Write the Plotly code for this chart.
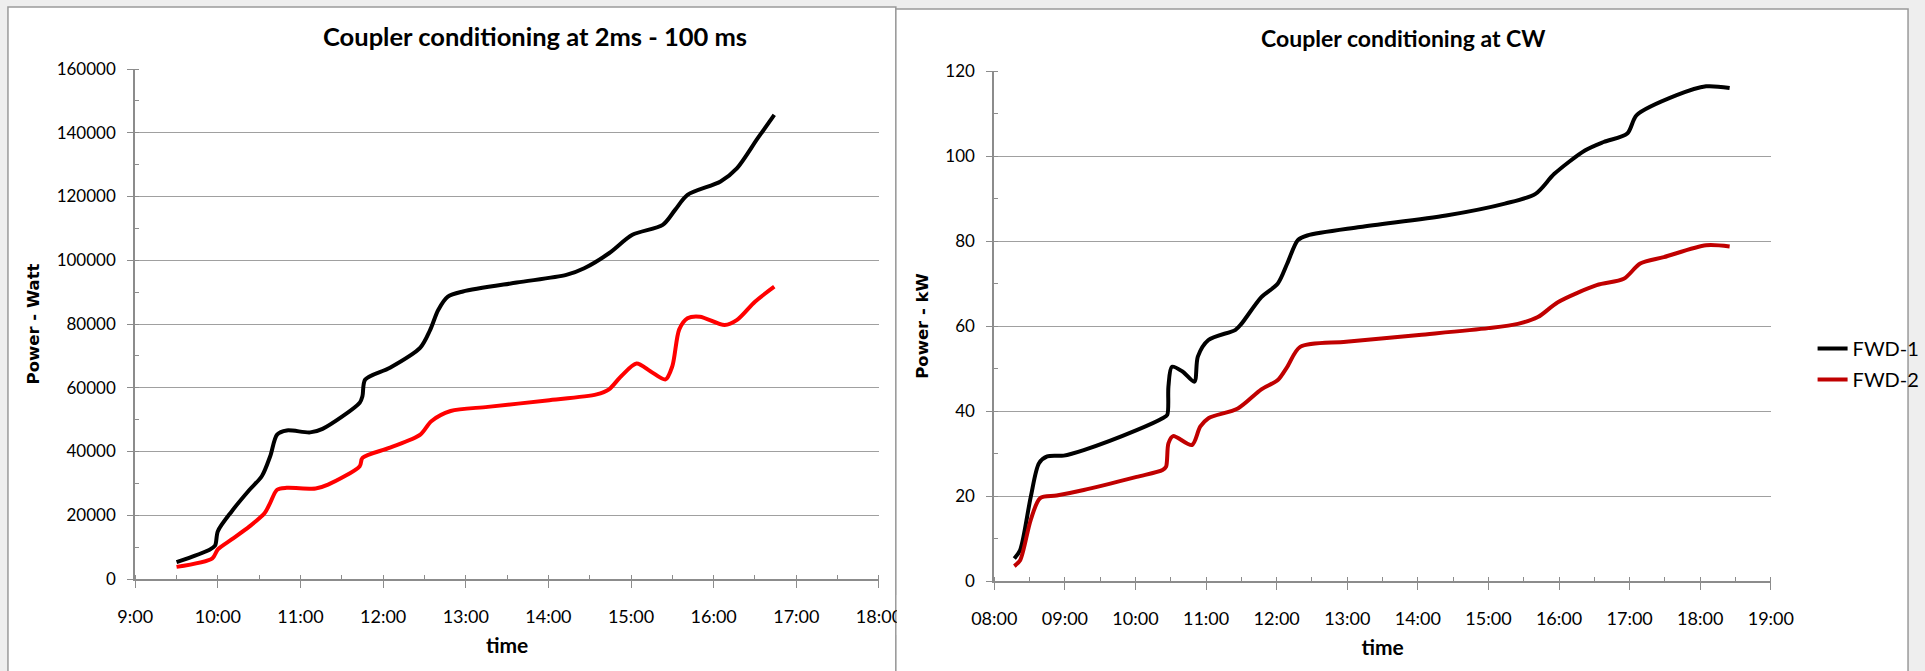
import plotly.graph_objects as go

# ---------------- data ----------------
# Left chart: "Coupler conditioning at 2ms - 100 ms" (Power in Watt)
ms_fwd1_time = ["09:30", "09:54", "09:58", "10:00", "10:10", "10:23", "10:32", "10:38", "10:43", "10:50",
                "11:07", "11:16", "11:43", "11:45", "11:47", "12:05", "12:27", "12:34", "12:40", "12:47",
                "12:58", "13:37", "14:13", "14:26", "14:44", "15:01", "15:23", "15:32", "15:41", "16:05",
                "16:17", "16:32", "16:44"]
ms_fwd1_power = [5300, 9200, 10500, 15000, 21200, 28000, 32300, 38500, 45300, 46600,
                 46000, 47100, 55300, 57400, 62600, 66300, 72600, 78000, 84400, 88600,
                 90200, 93000, 95400, 97500, 102200, 108000, 111100, 115800, 120500, 124700,
                 128900, 138300, 145600]

ms_fwd2_time = ["09:30", "09:56", "10:00", "10:10", "10:23", "10:34", "10:38", "10:43", "10:50", "11:11",
                "11:20", "11:43", "11:45", "12:05", "12:27", "12:35", "12:49", "13:16", "13:59", "14:35",
                "14:44", "14:53", "15:04", "15:14", "15:25", "15:30", "15:35", "15:41", "15:50", "16:08",
                "16:17", "16:30", "16:44"]
ms_fwd2_power = [3800, 6500, 9300, 12400, 16500, 20700, 23900, 28000, 28600, 28400,
                 29600, 35400, 38000, 41200, 45300, 49500, 52700, 54000, 56000, 57900,
                 59500, 63700, 67600, 65200, 62600, 66800, 78300, 81800, 82300, 79700,
                 81300, 87000, 91700]

# Right chart: "Coupler conditioning at CW" (Power in kW)
cw_fwd1_time = ["08:17", "08:22", "08:31", "08:38", "08:45", "08:59", "09:16", "10:01", "10:23", "10:27",
                "10:28", "10:31", "10:40", "10:50", "10:53", "11:02", "11:25", "11:30", "11:47", "12:01",
                "12:09", "12:18", "12:26", "13:11", "14:24", "15:14", "15:40", "15:56", "16:22", "16:38",
                "16:58", "17:06", "17:40", "18:05", "18:25"]
cw_fwd1_power = [5.3, 7.3, 19.8, 27.7, 29.3, 29.5, 30.8, 35.5, 38.3, 39.1,
                 45.7, 50.4, 49.3, 46.9, 52.8, 56.7, 59.1, 60.5, 66.8, 70.0,
                 74.7, 80.2, 81.3, 83.3, 86.0, 88.8, 91.1, 95.8, 101.3, 103.3,
                 105.3, 109.6, 114.3, 116.4, 116.0]

cw_fwd2_time = ["08:17", "08:22", "08:31", "08:39", "08:53", "09:16", "10:01", "10:23", "10:26", "10:28",
                "10:32", "10:48", "10:55", "11:02", "11:27", "11:47", "12:01", "12:09", "12:20", "12:59",
                "14:01", "15:00", "15:25", "15:42", "15:59", "16:32", "16:55", "17:09", "17:29", "18:05",
                "18:25"]
cw_fwd2_power = [3.5, 4.9, 14.4, 19.5, 20.1, 21.4, 24.5, 26.1, 26.9, 32.4,
                 34.1, 32.0, 36.3, 38.3, 40.6, 45.1, 47.3, 50.4, 55.1, 56.3,
                 57.9, 59.5, 60.5, 62.1, 65.6, 69.6, 71.1, 74.7, 76.2, 79.0,
                 78.7]

series_names = ["FWD-1", "FWD-2"]
titles = ["Coupler conditioning at 2ms - 100 ms", "Coupler conditioning at CW"]
y_titles = ["Power - Watt", "Power - kW"]
x_title = "time"
left_x_range = ["09:00", "18:00"]
right_x_range = ["08:00", "19:00"]
left_y_range = [0, 160000]
right_y_range = [0, 120]

DAY = "2000-01-01 "


def ts(lst):
    return [DAY + t for t in lst]


W, H = 1925, 671


def px(x):
    return x / W


def py(y):
    return 1 - y / H


GRID = "#a0a0a0"
AXIS = "#8c8c8c"
XTICKFONT = dict(family="Lato", size=18, color="#000000")
YTICKFONT = dict(family="Lato", size=17, color="#000000")
LW = 4

fig = go.Figure()

fig.add_trace(go.Scatter(x=ts(ms_fwd1_time), y=ms_fwd1_power, name=series_names[0], mode="lines",
                         line=dict(color="#000000", width=LW, shape="spline", smoothing=0.8),
                         legendgroup="g1", showlegend=False, xaxis="x", yaxis="y"))
fig.add_trace(go.Scatter(x=ts(ms_fwd2_time), y=ms_fwd2_power, name=series_names[1], mode="lines",
                         line=dict(color="#ff0000", width=LW, shape="spline", smoothing=0.8),
                         legendgroup="g2", showlegend=False, xaxis="x", yaxis="y"))
fig.add_trace(go.Scatter(x=ts(cw_fwd1_time), y=cw_fwd1_power, name=series_names[0], mode="lines",
                         line=dict(color="#000000", width=LW, shape="spline", smoothing=0.8),
                         legendgroup="g1", showlegend=True, xaxis="x2", yaxis="y2"))
fig.add_trace(go.Scatter(x=ts(cw_fwd2_time), y=cw_fwd2_power, name=series_names[1], mode="lines",
                         line=dict(color="#c00000", width=LW, shape="spline", smoothing=0.8),
                         legendgroup="g2", showlegend=True, xaxis="x2", yaxis="y2"))


def xaxis_cfg(domain, rng, fmt, anchor):
    return dict(
        domain=domain, anchor=anchor, type="date", automargin=False,
        range=[DAY + rng[0], DAY + rng[1]],
        tickformat=fmt, dtick=3600000, tick0=DAY + "00:00",
        ticks="outside", ticklen=7, tickcolor=AXIS, tickwidth=1,
        minor=dict(ticks="inside", ticklen=4, dtick=1800000, tickcolor=AXIS, showgrid=False),
        showline=True, linecolor=AXIS, linewidth=1.5,
        showgrid=False, zeroline=False,
        tickfont=XTICKFONT, ticklabelstandoff=14,
        title=dict(text=x_title, font=dict(family="Lato", size=21, color="#000", weight="bold"), standoff=12),
        fixedrange=True,
    )


def yaxis_cfg(domain, rng, dtick, minor, title, anchor, fmt):
    return dict(
        domain=domain, anchor=anchor, range=rng, dtick=dtick, automargin=False,
        tickformat=fmt,
        ticks="outside", ticklen=6, tickcolor=AXIS, tickwidth=1,
        minor=dict(ticks="inside", ticklen=4, dtick=minor, tickcolor=AXIS, showgrid=False),
        showline=True, linecolor=AXIS, linewidth=2,
        showgrid=True, gridcolor=GRID, gridwidth=1,
        zeroline=False, tickfont=YTICKFONT, ticklabelstandoff=8,
        title=dict(text=title, font=dict(family="DejaVu Sans", size=16.5, color="#000", weight="bold"),
                   standoff=13),
        fixedrange=True,
    )


fig.update_layout(
    width=W, height=H,
    margin=dict(l=0, r=0, t=0, b=0),
    paper_bgcolor="#eeeeee",
    plot_bgcolor="#ffffff",
    showlegend=True,
    xaxis=xaxis_cfg([px(136), px(884)], left_x_range, "%-H:%M", "y"),
    yaxis=yaxis_cfg([py(579), py(69)], left_y_range, 20000, 10000, y_titles[0], "x", "d"),
    xaxis2=xaxis_cfg([px(1000), px(1781)], right_x_range, "%H:%M", "y2"),
    yaxis2=yaxis_cfg([py(581), py(71)], right_y_range, 20, 10, y_titles[1], "x2", "d"),
    legend=dict(x=px(1823), y=py(329), xanchor="left", yanchor="top",
                font=dict(family="Lato", size=20, color="#000"),
                bgcolor="rgba(0,0,0,0)", tracegroupgap=2, itemclick=False),
    shapes=[
        dict(type="rect", xref="paper", yref="paper", x0=px(8), x1=px(901), y0=-0.05, y1=py(7),
             fillcolor="#ffffff", line=dict(color="#9a9a9a", width=1.5), layer="below"),
        dict(type="rect", xref="paper", yref="paper", x0=px(901), x1=px(1919), y0=-0.05, y1=py(9),
             fillcolor="#ffffff", line=dict(color="#9a9a9a", width=1.5), layer="below"),
        # right chart panel overlapping the cut-off last tick label of the left chart
        dict(type="rect", xref="paper", yref="paper", x0=px(902), x1=px(960), y0=py(635), y1=py(595),
             fillcolor="#ffffff", line=dict(width=0), layer="above"),
    ],
    annotations=[
        dict(text=titles[0], xref="paper", yref="paper", x=px(538), y=py(36), showarrow=False,
             font=dict(family="Lato", size=25.5, color="#000", weight="bold"), xanchor="center", yanchor="middle"),
        dict(text=titles[1], xref="paper", yref="paper", x=px(1411), y=py(38), showarrow=False,
             font=dict(family="Lato", size=23, color="#000", weight="bold"), xanchor="center", yanchor="middle"),
    ],
)

fig.write_html("out.html", config={"displayModeBar": False},
               post_script="document.body.style.margin='0';document.body.style.overflow='hidden';")
